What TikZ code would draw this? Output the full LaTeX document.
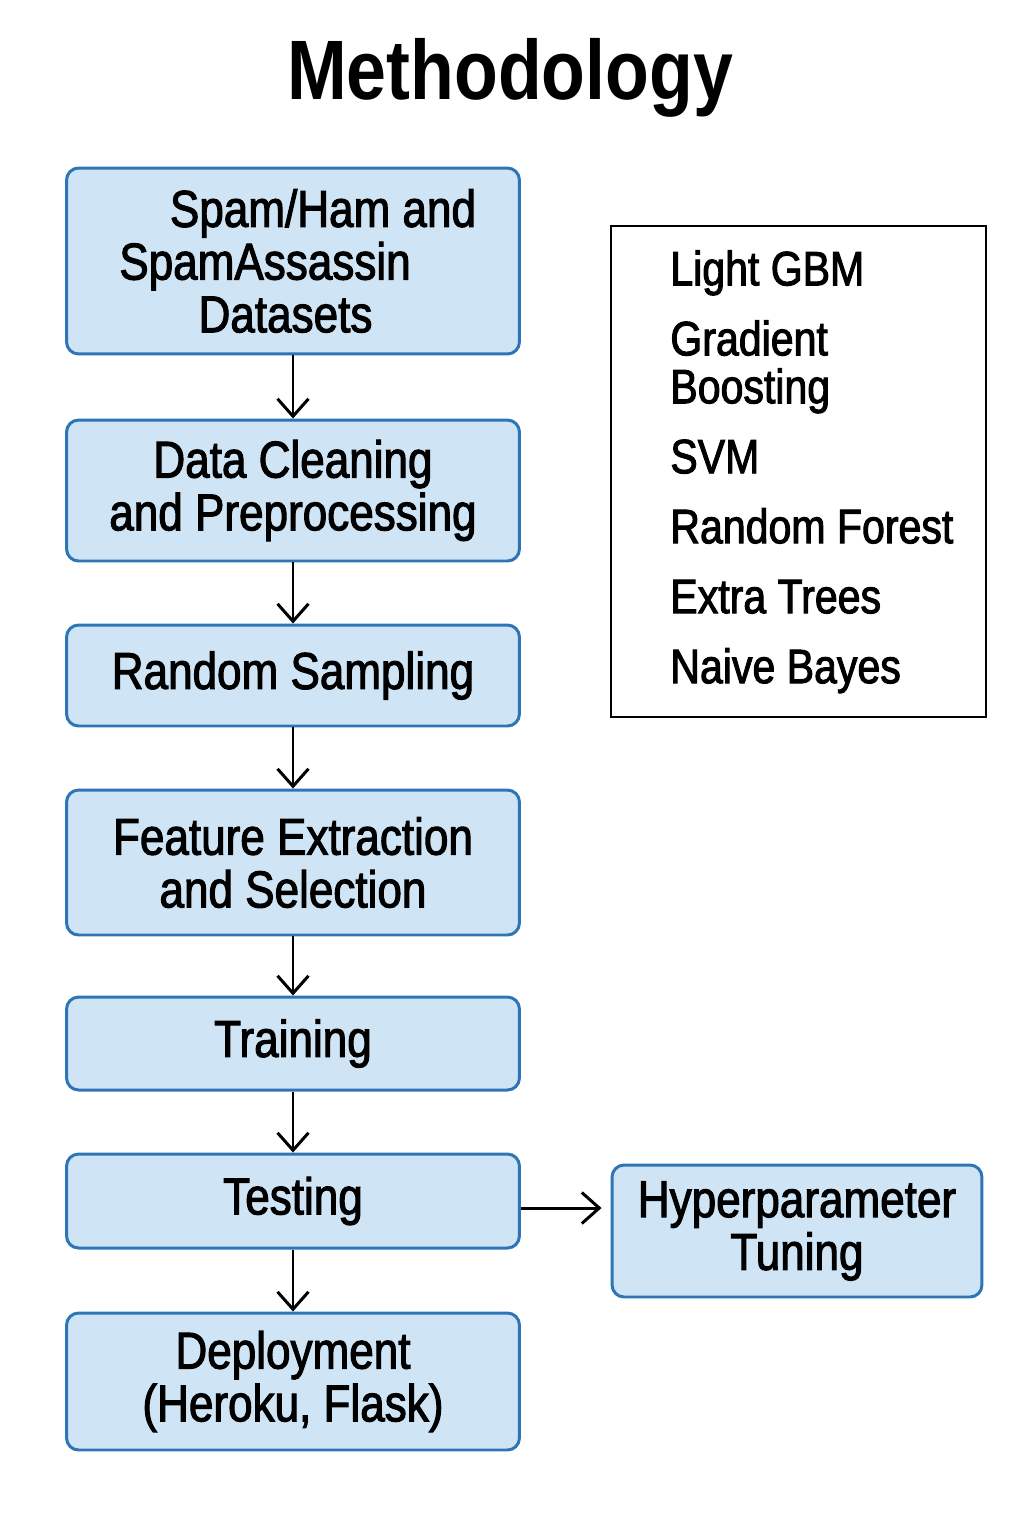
\documentclass[tikz,border=0pt]{standalone}
\usepackage{fontspec}
\setmainfont{Liberation Sans}[FakeStretch=0.85, UprightFeatures={FakeBold=2}]
\usetikzlibrary{arrows.meta}

\definecolor{boxfill}{HTML}{CFE4F4}
\definecolor{boxline}{HTML}{2E75B6}

\tikzset{
	stepbox/.style={rectangle, rounded corners=0.24cm, draw=boxline, fill=boxfill, line width=1.7pt, minimum width=9.06cm, align=center, inner sep=0pt, font=\fontsize{29.5}{30}\selectfont},
	flow/.style={-{Straight Barb[length=0.35cm,width=0.62cm]}, line width=1.7pt},
}

\begin{document}
\begin{tikzpicture}[x=0.02cm, y=-0.02cm]
		\useasboundingbox (0,0) rectangle (1024,1536);

		\node (title) [font=\bfseries\fontsize{48}{50}\selectfont] at (510,78) {Methodology};

		% main flow
		\node (data) [stepbox, minimum height=3.72cm] at (293,261) {\hspace*{1.2cm}Spam/Ham and\\SpamAssassin\hspace*{1.12cm}\mbox{}\\Datasets\hspace*{0.3cm}};
		\node (clean) [stepbox, minimum height=2.82cm] at (293,490.5) {Data Cleaning\\and Preprocessing};
		\node (sampling) [stepbox, minimum height=2.02cm] at (293,675.5) {Random Sampling};
		\node (feature) [stepbox, minimum height=2.9cm] at (293,862.5) {Feature Extraction\\and Selection};
		\node (training) [stepbox, minimum height=1.86cm] at (293,1043.5) {Training};
		\node (testing) [stepbox, minimum height=1.88cm] at (293,1201) {Testing};
		\node (deploy) [stepbox, minimum height=2.74cm] at (293,1381.5) {Deployment\\(Heroku, Flask)};

		\node (hyper) [stepbox, minimum width=7.4cm, minimum height=2.64cm] at (797,1231) {Hyperparameter\\Tuning};

		% list of models
		\node (algos) [draw, line width=1.6pt, minimum width=7.5cm, minimum height=9.82cm, inner sep=0pt] at (798.5,471.5) {};
		\node (algolist) [anchor=north west, align=left, inner sep=0pt, font=\fontsize{27.5}{27.3}\selectfont] at (670,250) {Light GBM\\[0.44cm]Gradient\\Boosting\\[0.44cm]SVM\\[0.44cm]Random Forest\\[0.44cm]Extra Trees\\[0.44cm]Naive Bayes};

		\draw[flow] (data) -- (clean);
		\draw[flow] (clean) -- (sampling);
		\draw[flow] (sampling) -- (feature);
		\draw[flow] (feature) -- (training);
		\draw[flow] (training) -- (testing);
		\draw[flow] (testing) -- (deploy);
		\draw[flow, shorten >=0.18cm] ([yshift=-0.14cm]testing.east) -- ([yshift=-0.14cm]testing.east -| hyper.west);
\end{tikzpicture}
\end{document}
